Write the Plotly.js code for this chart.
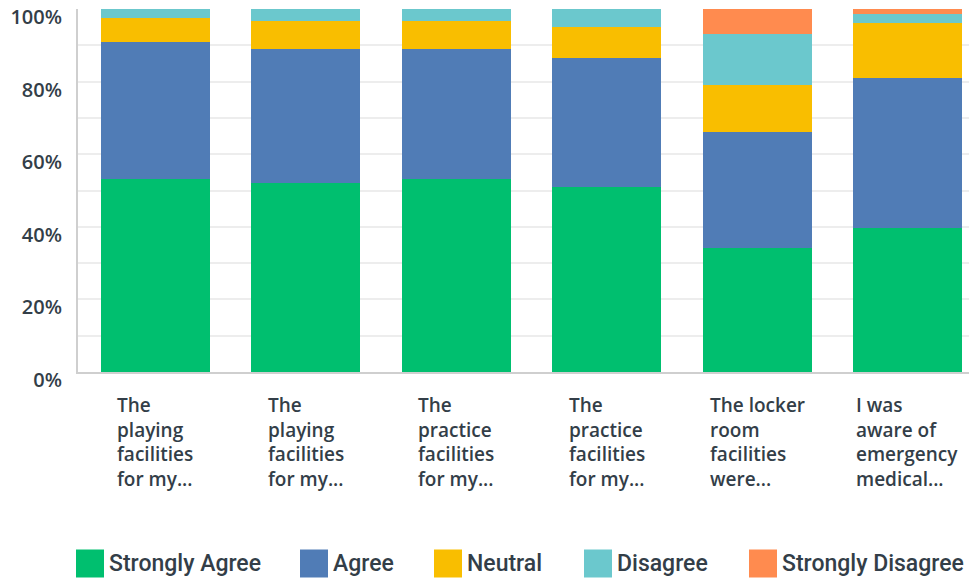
<!DOCTYPE html>
<html>
<head>
<meta charset="utf-8">
<script src="https://cdn.plot.ly/plotly-3.0.1.min.js"></script>
<style>html,body{margin:0;padding:0;background:#fff;}#chart{width:969px;height:578px;}</style>
</head>
<body>
<div id="chart"></div>
<script>
// ---- data ----
const categories = [
  "The<br>playing<br>facilities<br>for my...",
  "The<br>playing<br>facilities<br>for my...",
  "The<br>practice<br>facilities<br>for my...",
  "The<br>practice<br>facilities<br>for my...",
  "The locker<br>room<br>facilities<br>were...",
  "I was<br>aware of<br>emergency<br>medical..."
];
const seriesNames = ["Strongly Agree", "Agree", "Neutral", "Disagree", "Strongly Disagree"];
const stronglyAgree    = [53.2, 52.1, 53.2, 51.0, 34.2, 39.7];
const agree            = [37.7, 36.9, 35.8, 35.5, 31.9, 41.3];
const neutral          = [6.6,  7.7,  7.7,  8.5,  13.0, 15.1];
const disagree         = [2.5,  3.3,  3.3,  5.0,  14.0, 2.5];
const stronglyDisagree = [0,    0,    0,    0,    6.9,  1.4];
const yTickVals = [0, 20, 40, 60, 80, 100];
const yTickText = ["0%", "20%", "40%", "60%", "80%", "100%"];
const yGridVals = [10, 20, 30, 40, 50, 60, 70, 80, 90];

// ---- styling ----
const colors = ["#00bf6f", "#507cb6", "#f9be00", "#6bc8cd", "#ff8b4f"];
const textColor = "#333e48";
const xIdx = categories.map((_, i) => i);
const allSeries = [stronglyAgree, agree, neutral, disagree, stronglyDisagree];

const traces = allSeries.map((vals, k) => ({
  type: "bar",
  x: xIdx,
  y: vals,
  name: seriesNames[k],
  marker: {color: colors[k], line: {width: 0}},
  showlegend: false,
  hoverinfo: "name+y"
}));

const annotations = categories.map((c, i) => ({
  x: i, y: 0, xref: "x", yref: "y",
  text: c, showarrow: false,
  xanchor: "center", yanchor: "top", align: "left",
  yshift: -18,
  font: {family: "Open Sans", size: 19, weight: 600, color: textColor}
}));

// custom legend (layout)
const M = {l: 78, r: 0, t: 9, b: 206};
const plotW = 969 - M.l - M.r, plotH = 578 - M.t - M.b;
const px2x = p => (p - M.l) / plotW;
const py2y = p => (578 - M.b - p) / plotH;
const legendX = [76, 300, 434, 584, 749];
const shapes = [];
seriesNames.forEach((n, k) => {
  shapes.push({
    type: "rect", xref: "paper", yref: "paper",
    x0: px2x(legendX[k]), x1: px2x(legendX[k] + 28),
    y0: py2y(577.5), y1: py2y(549.5),
    fillcolor: colors[k], line: {width: 0}
  });
  annotations.push({
    xref: "paper", yref: "paper",
    x: px2x(legendX[k] + 31), y: py2y(563),
    xanchor: "left", yanchor: "middle",
    text: n, showarrow: false,
    font: {family: "Roboto", size: 23, weight: 500, color: textColor}
  });
});

const layout = {
  width: 969, height: 578,
  margin: M,
  paper_bgcolor: "#ffffff", plot_bgcolor: "#ffffff",
  barmode: "stack",
  bargap: 0.275,
  showlegend: false,
  xaxis: {
    range: [-0.515, 5.409],
    showticklabels: false, ticks: "",
    showgrid: false, zeroline: false,
    showline: true, linecolor: "#cfcfcf", linewidth: 2,
    fixedrange: true
  },
  yaxis: {
    range: [0, 100.01],
    tickmode: "array", tickvals: yTickVals, ticktext: yTickText,
    ticks: "", ticklabelstandoff: 10, ticklabelshift: 8,
    ticklabeloverflow: "allow",
    tickfont: {family: "Open Sans", size: 20, weight: 600, color: textColor},
    showgrid: false, zeroline: false,
    showline: true, linecolor: "#cfcfcf", linewidth: 2,
    minor: {tickvals: yGridVals, showgrid: true, gridcolor: "#ededed", gridwidth: 2, ticks: ""},
    fixedrange: true
  },
  annotations: annotations,
  shapes: shapes
};

Plotly.newPlot("chart", traces, layout, {displayModeBar: false, staticPlot: true});
</script>
</body>
</html>
